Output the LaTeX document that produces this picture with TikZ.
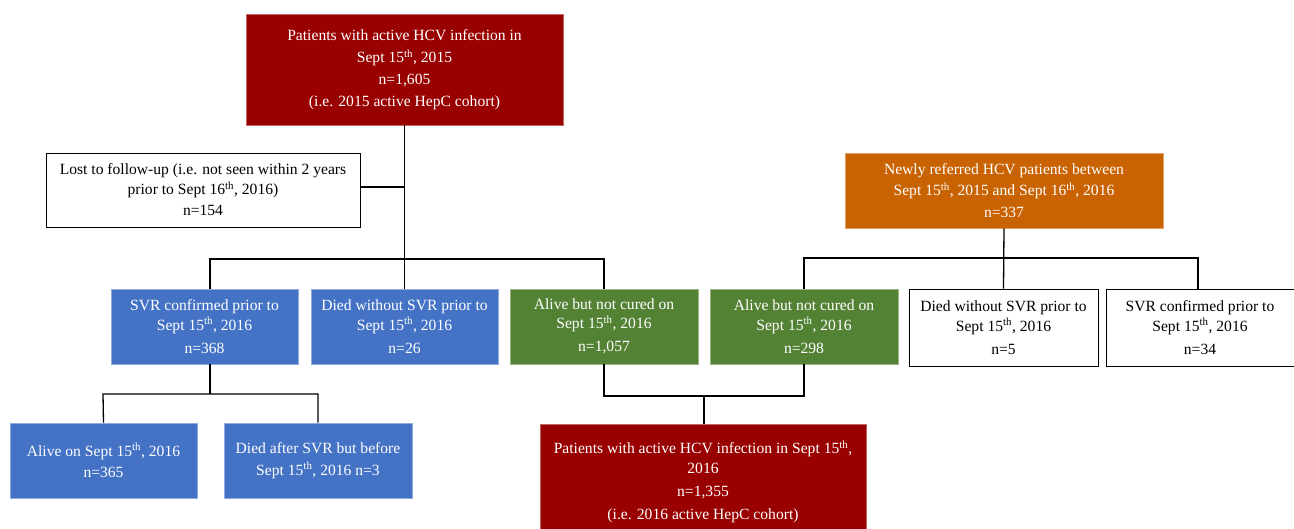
\documentclass[tikz,border=0pt]{standalone}
\usepackage{fontspec}
\setmainfont{Liberation Serif}
\definecolor{hcvred}{HTML}{990000}
\definecolor{hcvblue}{HTML}{4472C4}
\definecolor{hcvgreen}{HTML}{548235}
\definecolor{hcvorange}{HTML}{C96200}
\newcommand{\thsup}{\textsuperscript{th}}
\begin{document}
\begin{tikzpicture}[x=1pt,y=-1pt,
  base/.style={rectangle, inner sep=0pt, align=center, font=\fontsize{15.6}{19.5}\selectfont},
  redbox/.style={base, fill=hcvred, draw=hcvred!60!white, line width=0.6pt, text=white},
  bluebox/.style={base, fill=hcvblue, draw=hcvblue!60!white, line width=0.6pt, text=white},
  greenbox/.style={base, fill=hcvgreen, draw=hcvgreen!60!white, line width=0.6pt, text=white},
  orangebox/.style={base, fill=hcvorange, draw=hcvorange!60!white, line width=0.6pt, text=white},
  whitebox/.style={base, fill=white, draw=black, line width=1pt, text=black},
  conn/.style={draw=black, line width=1.3pt}]
\useasboundingbox (0,0) rectangle (1294,528);

\node[redbox, minimum width=317pt, minimum height=111pt] (top) at (404.5,69.5)
  {Patients with active HCV infection in\\[2.5pt] Sept 15\thsup, 2015\\[2.5pt] n=1,605\\[2.5pt] (i.e. 2015 active HepC cohort)};
\node[whitebox, minimum width=314pt, minimum height=74pt] (lost) at (203,190)
  {Lost to follow-up (i.e. not seen within 2 years\\ prior to Sept 16\thsup, 2016)\\[2pt] n=154};
\node[orangebox, minimum width=318pt, minimum height=75pt] (newref) at (1004,190.5)
  {Newly referred HCV patients between\\[2pt] Sept 15\thsup, 2015 and Sept 16\thsup, 2016\\[2pt] n=337};

\node[bluebox, minimum width=187pt, minimum height=75pt] (svr) at (204.5,326.5)
  {SVR confirmed prior to\\ Sept 15\thsup, 2016\\[3.5pt] n=368};
\node[bluebox, minimum width=187pt, minimum height=75pt] (died) at (404.5,326.5)
  {Died without SVR prior to\\ Sept 15\thsup, 2016\\[3.5pt] n=26};
\node[greenbox, minimum width=188pt, minimum height=75pt] (alivea) at (604,326.5)
  {Alive but not cured on\\ Sept 15\thsup, 2016\\[3.5pt] n=1,057};
\node[greenbox, minimum width=188pt, minimum height=75pt] (aliveb) at (804,326.5)
  {Alive but not cured on\\ Sept 15\thsup, 2016\\[3.5pt] n=298};
\node[whitebox, minimum width=189pt, minimum height=77pt] (diedb) at (1003.5,327.5)
  {Died without SVR prior to\\ Sept 15\thsup, 2016\\[3.5pt] n=5};
\node[whitebox, minimum width=188pt, minimum height=77pt] (svrb) at (1200,327.5)
  {SVR confirmed prior to\\ Sept 15\thsup, 2016\\[3.5pt] n=34};

\node[bluebox, minimum width=187pt, minimum height=75pt] (alive) at (103.5,460.5)
  {Alive on Sept 15\thsup, 2016\\[2pt] n=365};
\node[bluebox, minimum width=188pt, minimum height=75pt] (diedafter) at (318,460.5)
  {Died after SVR but before\\[2pt] Sept 15\thsup, 2016 n=3};
\node[redbox, minimum width=326pt, minimum height=116pt] (final) at (703,482)
  {Patients with active HCV infection in Sept 15\thsup,\\ 2016\\[3.5pt] n=1,355\\[3.5pt] (i.e. 2016 active HepC cohort)};

% junction coordinates
\coordinate (j1) at (404,259);
\coordinate (j1l) at (210,259);
\coordinate (j1r) at (604,259);
\coordinate (jl) at (404,187);
\coordinate (j2) at (1004,258);
\coordinate (j2l) at (804,258);
\coordinate (j2r) at (1198,258);
\coordinate (j3) at (210,394);
\coordinate (j3l) at (103,394);
\coordinate (j3r) at (318,394);
\coordinate (j4l) at (604,396);
\coordinate (j4r) at (804,396);
\coordinate (j4) at (704,396);

\draw[conn] (top.south) -- (died.north);
\draw[conn] (lost.east |- jl) -- (jl);
\draw[conn] (j1l |- svr.north) -- (j1l) -- (j1r) -- (alivea.north);
\draw[conn] (newref.south) -- (diedb.north);
\draw[conn] (aliveb.north) -- (j2l) -- (j2r) -- (j2r |- svrb.north);
\draw[conn] (j3 |- svr.south) -- (j3);
\draw[conn] (alive.north) -- (j3l) -- (j3r) -- (diedafter.north);
\draw[conn] (alivea.south) -- (j4l) -- (j4r) -- (aliveb.south);
\draw[conn] (j4) -- (j4 |- final.north);
\end{tikzpicture}
\end{document}
